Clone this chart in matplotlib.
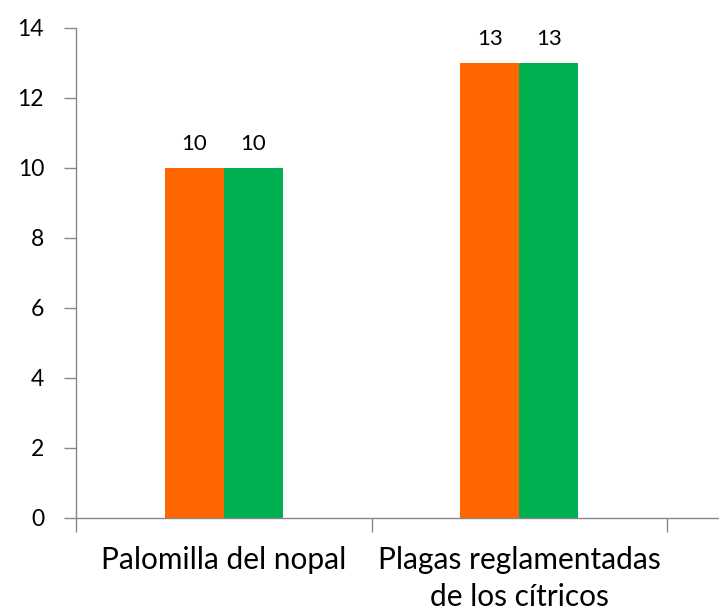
import matplotlib
matplotlib.use("Agg")
import matplotlib.pyplot as plt
import numpy as np

categories = ["Palomilla del nopal", "Plagas reglamentadas\nde los cítricos"]
series_a = [10, 13]
series_b = [10, 13]
colors = ["#FF6600", "#00B050"]

plt.rcParams['font.family'] = ['Lato', 'DejaVu Sans']

fig = plt.figure(figsize=(7.19, 6.11), dpi=100)
W, H = 719, 611
left, right, bottom, top = 76, 719, 518, 28
ax = fig.add_axes([left / W, 1 - bottom / H, (right - left) / W, (bottom - top) / H])

x = np.arange(len(categories))
bw = 0.2
ax.bar(x - bw / 2, series_a, width=bw, color=colors[0])
ax.bar(x + bw / 2, series_b, width=bw, color=colors[1])

for xi, v in zip(x - bw / 2, series_a):
    ax.text(xi, v + 0.4, f"{v}", ha="center", va="bottom", fontsize=16, color="#000000")
for xi, v in zip(x + bw / 2, series_b):
    ax.text(xi, v + 0.4, f"{v}", ha="center", va="bottom", fontsize=16, color="#000000")

cat_px = 295.5
xmax = (right - left) / cat_px - 0.5
ax.set_xlim(-0.5, xmax)
ax.set_ylim(0, 14)
ax.set_yticks(np.arange(0, 15, 2))
ax.set_xticks([-0.5, 0.5, 1.5])
ax.set_xticklabels([])
ax.tick_params(axis="x", length=10, color="#888888", width=1)
ax.tick_params(axis="y", length=9, color="#888888", width=1, labelsize=16.5, pad=14)

for xi, lab in zip(x, categories):
    ax.text(xi, -0.8, lab, ha="center", va="top", fontsize=21.5, linespacing=1.4,
            transform=ax.transData)

for s in ["top", "right"]:
    ax.spines[s].set_visible(False)
for s in ["left", "bottom"]:
    ax.spines[s].set_color("#888888")
    ax.spines[s].set_linewidth(1)

fig.savefig("out.png", dpi=100)
